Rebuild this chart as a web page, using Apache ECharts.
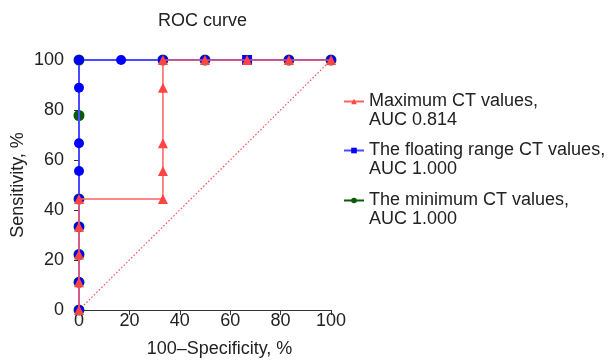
<!DOCTYPE html>
<html><head><meta charset="utf-8">
<script src="https://cdn.jsdelivr.net/npm/echarts@6/dist/echarts.min.js"></script>
<style>html,body{margin:0;padding:0;background:#fff}#c{width:612px;height:363px}</style>
</head><body><div id="c"></div>
<script>
const seriesNames = ['Maximum CT values,\nAUC 0.814', 'The floating range CT values,\nAUC 1.000', 'The minimum CT values,\nAUC 1.000'];
// x = 100-Specificity (%), y = Sensitivity (%)
const maxX = [0, 0, 0, 0, 0, 33.3, 33.3, 33.3, 33.3, 33.3, 50, 66.7, 83.3, 100];
const maxY = [0, 11.1, 22.2, 33.3, 44.4, 44.4, 55.6, 66.7, 88.9, 100, 100, 100, 100, 100];
const floatX = [0, 0, 0, 0, 0, 0, 0, 0, 0, 16.7, 33.3, 50, 66.7, 83.3, 100];
const floatY = [0, 11.1, 22.2, 33.3, 44.4, 55.6, 66.7, 88.9, 100, 100, 100, 100, 100, 100, 100];
const minX = [0, 0, 0, 0, 0, 0, 0, 33.3, 50, 83.3, 100];
const minY = [0, 11.1, 22.2, 33.3, 44.4, 77.8, 100, 100, 100, 100, 100];
const refX = [0, 100];
const refY = [0, 100];
const ticks = [0, 20, 40, 60, 80, 100];

const zip = (a, b) => a.map((v, i) => [v, b[i]]);
const font = 'Liberation Sans, Arial, Helvetica, sans-serif';
const txt = {fontFamily: font, fontSize: 18, color: '#222'};
const legendTop = [68, 117, 167];
const mkLegend = (i) => ({
  orient: 'vertical', left: 338, top: legendTop[i], itemWidth: 20, itemHeight: 7, itemGap: 0,
  textStyle: Object.assign({}, txt, {lineHeight: 19}),
  formatter: name => '\n' + name,
  data: [seriesNames[i]]
});
const chart = echarts.init(document.getElementById('c'), null, {renderer: 'canvas'});
chart.setOption({
  animation: false,
  title: {text: 'ROC curve', left: 153, top: 7,
    textStyle: Object.assign({}, txt, {fontWeight: 'normal'})},
  grid: {left: 79, right: 281, top: 60, bottom: 51},
  xAxis: {type: 'value', min: 0, max: 100, interval: 20,
    name: '100\u2013Specificity, %', nameLocation: 'middle', nameGap: 30,
    nameTextStyle: Object.assign({}, txt, {padding: [0, 0, 0, 29]}),
    axisLine: {lineStyle: {color: '#333', width: 1}},
    axisTick: {show: true, length: 5, lineStyle: {color: '#333'}},
    axisLabel: Object.assign({}, txt, {margin: 2,
      formatter: v => ticks.includes(v) ? String(v) : ''}),
    splitLine: {show: false}},
  yAxis: {type: 'value', min: 0, max: 100, interval: 20,
    name: 'Sensitivity, %', nameLocation: 'middle', nameGap: 52,
    nameTextStyle: txt,
    axisLine: {show: true, lineStyle: {color: '#333', width: 1}},
    axisTick: {show: true, length: 5, lineStyle: {color: '#333'}},
    axisLabel: Object.assign({}, txt, {margin: 15,
      formatter: v => ticks.includes(v) ? String(v) : ''}),
    splitLine: {show: false}},
  legend: [mkLegend(0), mkLegend(1), mkLegend(2)],
  series: [
    {type: 'line', name: 'ref', data: zip(refX, refY), symbol: 'none', silent: true,
      lineStyle: {color: '#ff4d4d', width: 1.2, type: [1.5, 2]}, z: 1},
    {type: 'line', name: seriesNames[2], data: zip(minX, minY), symbol: 'circle', symbolSize: 11,
      itemStyle: {color: '#0b5a0b'}, lineStyle: {color: '#0b5a0b', width: 1.5}, z: 2},
    {type: 'line', name: seriesNames[1],
      data: zip(floatX, floatY).map((p, i) => floatX[i] === 66.7 ? p : {value: p, symbol: 'circle'}),
      symbol: 'rect', symbolSize: 10,
      itemStyle: {color: '#0000ff'}, lineStyle: {color: '#4a4aff', width: 2}, z: 3},
    {type: 'line', name: seriesNames[0], data: zip(maxX, maxY), symbol: 'triangle', symbolSize: [10, 10],
      itemStyle: {color: '#ff4444'}, lineStyle: {color: '#ff6060', width: 1.5}, z: 4}
  ]
});
</script></body></html>
